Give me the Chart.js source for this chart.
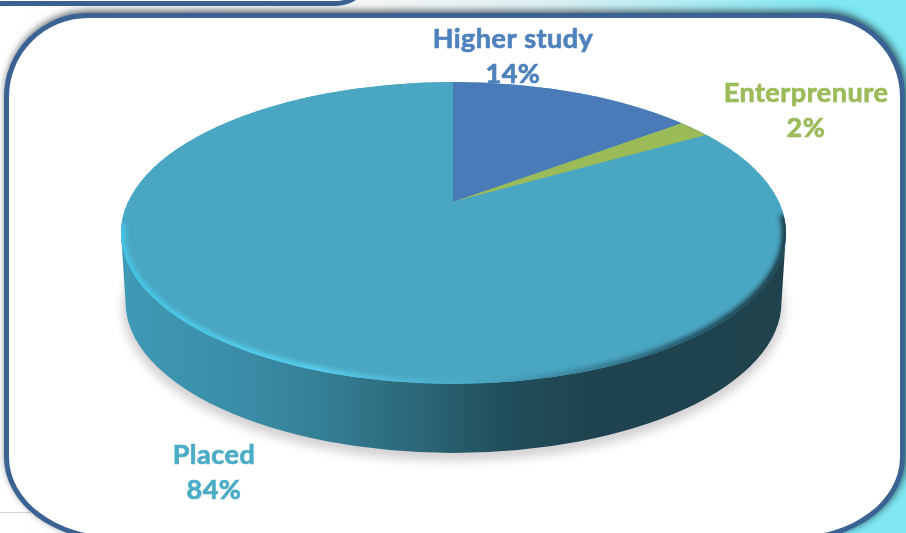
<!DOCTYPE html>
<html lang="en">

<head>
    <meta charset="UTF-8">
    <title>placement pie</title>
    <script src="https://cdn.jsdelivr.net/npm/chart.js"></script>
    <style>
        html, body { margin: 0; padding: 0; }
        body {
            width: 906px; height: 533px; overflow: hidden; position: relative;
            background: linear-gradient(to right, #ffffff 0%, #f4f6f6 42%, #dff1f4 60%, #7fe8f3 92%);
        }
        .rule { position: absolute; left: 0; top: 512px; width: 30px; height: 1px; background: #d4d4d4; }
        .prevBox {
            position: absolute; left: -20px; top: -30px; width: 392px; height: 36px;
            background: #fff; border: 5px solid #3a6292; border-radius: 0 0 36px 0; box-sizing: border-box;
        }
        .box {
            position: absolute; left: 4px; top: 13px; width: 901px; height: 528px; box-sizing: border-box;
            background: #fff; border: 5px solid #3a6292; border-radius: 84px 84px 110px 110px / 84px;
            box-shadow: 1px -3px 7px rgba(30, 40, 50, .55), 3px 0 6px rgba(30, 60, 70, .35);
        }
        canvas { position: absolute; left: 0; top: 0; }
    </style>
</head>

<body>
    <div class="rule"></div>
    <div class="prevBox"></div>
    <div class="box"></div>
    <canvas id="myChart" width="906" height="533"></canvas>

    <script>
        const categories = ["Higher study", "Enterprenure", "Placed"];
        const shares = [14, 2, 84];
        const sliceColors = ["#4a7ab8", "#9bbb59", "#4aa7c3"];
        const labelColors = ["#4f81bd", "#9bbb59", "#4bacc6"];
        const labelSpots = [[513, 39, 74], [806, 93, 128], [214, 455, 490]];

        // look of the tilted disc
        const disc = { x: 453.5, y: 233, rx: 332.5, ry: 151 };
        const floor = { x: 453.5, y: 302, rx: 328, ry: 151 };
        const apex = { x: 453, y: 202, sx: 490, sy: 204 };

        function ellipse(ctx, e) {
            ctx.beginPath();
            ctx.ellipse(e.x, e.y, e.rx, e.ry, 0, 0, Math.PI * 2);
        }

        const tiltPlugin = {
            id: "tilt",
            beforeDatasetsDraw(chart) {
                const ctx = chart.ctx;
                const arc = chart.getDatasetMeta(0).data[0];

                // soft shadow on the floor
                ctx.save();
                ctx.filter = "blur(5px)";
                ctx.fillStyle = "rgba(120,115,120,.32)";
                ellipse(ctx, { x: floor.x, y: floor.y + 6, rx: floor.rx + 3, ry: floor.ry + 2 });
                ctx.fill();
                ctx.restore();

                // wall of the disc
                const wall = ctx.createLinearGradient(disc.x - disc.rx, 0, disc.x + disc.rx, 0);
                wall.addColorStop(0, "#3f9ab5");
                wall.addColorStop(0.19, "#3a8ca6");
                wall.addColorStop(0.3, "#357f96");
                wall.addColorStop(0.465, "#2a6474");
                wall.addColorStop(0.57, "#214f5c");
                wall.addColorStop(0.705, "#1f444f");
                wall.addColorStop(1, "#1f424d");
                ctx.fillStyle = wall;
                ctx.beginPath();
                ctx.moveTo(disc.x - disc.rx, disc.y);
                ctx.lineTo(floor.x - floor.rx, floor.y);
                ctx.ellipse(floor.x, floor.y, floor.rx, floor.ry, 0, Math.PI, 0, true);
                ctx.lineTo(disc.x + disc.rx, disc.y);
                ctx.closePath();
                ctx.fill();

                // top face, slices come from the library, only projected here
                ctx.save();
                ellipse(ctx, disc);
                ctx.fillStyle = sliceColors[2];
                ctx.fill();
                ctx.clip();
                ctx.translate(apex.x, apex.y);
                ctx.scale(apex.sx / arc.outerRadius, apex.sy / arc.outerRadius);
                ctx.translate(-arc.x, -arc.y);
            },
            afterDatasetsDraw(chart) {
                const ctx = chart.ctx;
                ctx.restore();

                // bevel: bright on the left, dark and blurred on the right
                ctx.save();
                ellipse(ctx, disc);
                ctx.clip();
                const rim = ctx.createLinearGradient(disc.x - disc.rx, 0, disc.x + disc.rx, 0);
                rim.addColorStop(0, "rgba(70,200,232,1)");
                rim.addColorStop(0.3, "rgba(90,210,242,1)");
                rim.addColorStop(0.52, "rgba(85,190,220,.15)");
                rim.addColorStop(0.62, "rgba(40,90,110,.25)");
                rim.addColorStop(0.85, "rgba(30,70,85,.9)");
                rim.addColorStop(1, "rgba(25,50,60,1)");
                ctx.filter = "blur(2.5px)";
                ctx.strokeStyle = rim;
                ctx.lineWidth = 8;
                ctx.beginPath();
                ctx.ellipse(disc.x, disc.y, disc.rx, disc.ry, 0, -0.12, Math.PI + 0.06);
                ctx.stroke();
                ctx.restore();

                // data labels
                ctx.save();
                ctx.font = "bold 27px Lato";
                ctx.letterSpacing = "0.5px";
                ctx.textAlign = "center";
                ctx.textBaseline = "middle";
                ctx.lineWidth = 0.7;
                ctx.filter = "blur(0.4px)";
                categories.forEach((name, i) => {
                    ctx.fillStyle = labelColors[i];
                    ctx.strokeStyle = labelColors[i];
                    ctx.fillText(name, labelSpots[i][0], labelSpots[i][1]);
                    ctx.strokeText(name, labelSpots[i][0], labelSpots[i][1]);
                    ctx.fillText(shares[i] + "%", labelSpots[i][0], labelSpots[i][2]);
                    ctx.strokeText(shares[i] + "%", labelSpots[i][0], labelSpots[i][2]);
                });
                ctx.restore();
            }
        };

        new Chart("myChart", {
            type: "pie",
            data: {
                labels: categories,
                datasets: [{
                    data: shares,
                    backgroundColor: sliceColors,
                    borderWidth: 0
                }]
            },
            options: {
                responsive: false,
                animation: false,
                plugins: { legend: { display: false }, tooltip: { enabled: false } }
            },
            plugins: [tiltPlugin]
        });
    </script>
</body>

</html>
